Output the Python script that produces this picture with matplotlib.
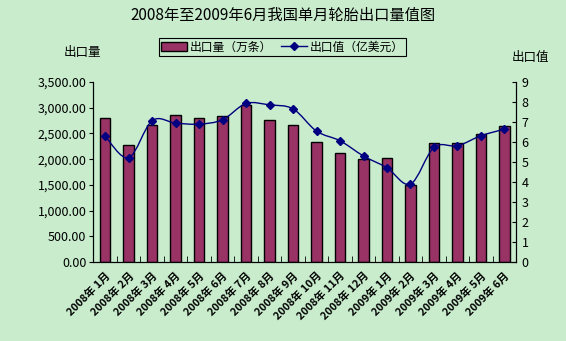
import matplotlib
matplotlib.use('Agg')
import matplotlib.pyplot as plt
from matplotlib.path import Path
from matplotlib.patches import PathPatch
from matplotlib.lines import Line2D
from matplotlib.ticker import FuncFormatter, MultipleLocator
import numpy as np

plt.rcParams['font.family'] = ['Noto Sans CJK SC', 'DejaVu Sans']

months = ['2008年 1月', '2008年 2月', '2008年 3月', '2008年 4月', '2008年 5月',
          '2008年 6月', '2008年 7月', '2008年 8月', '2008年 9月', '2008年 10月',
          '2008年 11月', '2008年 12月', '2009年 1月', '2009年 2月', '2009年 3月',
          '2009年 4月', '2009年 5月', '2009年 6月']
volume = [2800, 2280, 2665, 2860, 2800, 2845, 3055, 2765, 2665, 2340,
          2125, 2000, 2030, 1490, 2320, 2320, 2485, 2650]
value = [6.29, 5.21, 7.06, 6.94, 6.89, 7.11, 7.92, 7.85, 7.65, 6.54,
         6.06, 5.30, 4.71, 3.90, 5.73, 5.81, 6.31, 6.64]

bg = '#C8ECCC'
bar_col = '#993366'
line_col = '#000080'

fig = plt.figure(figsize=(5.66, 3.41), dpi=100, facecolor=bg)
ax = fig.add_axes([0.165, 0.231, 0.747, 0.529])
ax.set_facecolor(bg)
x = np.arange(len(months))
ax.bar(x, volume, width=0.45, color=bar_col, edgecolor='black', linewidth=1)
ax.set_xlim(-0.5, len(months) - 0.5)
ax.set_ylim(0, 3500)
ax.yaxis.set_major_locator(MultipleLocator(500))
ax.yaxis.set_major_formatter(FuncFormatter(lambda v, p: '{:,.2f}'.format(v)))
ax.tick_params(axis='y', labelsize=9, length=3, direction='out', pad=2)
ax.set_xticks(x)
ax.set_xticklabels(months, rotation=45, ha='right', rotation_mode='anchor',
                   fontsize=7.8, fontweight='bold')
ax.set_xticks(np.arange(len(months) + 1) - 0.5, minor=True)
ax.tick_params(axis='x', which='major', length=0, pad=6)
ax.tick_params(axis='x', which='minor', length=4, direction='in')
ax.spines['top'].set_visible(False)

ax2 = ax.twinx()
ax2.set_ylim(0, 9)
ax2.yaxis.set_major_locator(MultipleLocator(1))
ax2.tick_params(axis='y', labelsize=9, length=3, direction='in', pad=4)
ax2.spines['top'].set_visible(False)

# smooth line, bezier segments like Excel's smoothed line
pts = np.column_stack([x, value]).astype(float)
verts = [tuple(pts[0])]
codes = [Path.MOVETO]
n = len(pts)
for i in range(n - 1):
    p0 = pts[max(i - 1, 0)]
    p1 = pts[i]
    p2 = pts[i + 1]
    p3 = pts[min(i + 2, n - 1)]
    c1 = p1 + (p2 - p0) / 6
    c2 = p2 - (p3 - p1) / 6
    verts += [tuple(c1), tuple(c2), tuple(p2)]
    codes += [Path.CURVE4] * 3
ax2.add_patch(PathPatch(Path(verts, codes), facecolor='none', edgecolor=line_col, lw=1))
ax2.plot(x, value, linestyle='none', marker='D', markersize=4.5, color=line_col)

fig.text(0.5, 0.955, '2008年至2009年6月我国单月轮胎出口量值图', ha='center', va='center', fontsize=11)
fig.text(0.145, 0.845, '出口量', ha='center', va='center', fontsize=9)
fig.text(0.937, 0.832, '出口值', ha='center', va='center', fontsize=9)

handles = [plt.Rectangle((0, 0), 1, 1, facecolor=bar_col, edgecolor='black'),
           Line2D([], [], color=line_col, marker='D', markersize=4, lw=1)]
leg = fig.legend(handles, ['出口量（万条）', '出口值（亿美元）'], loc='center',
                 bbox_to_anchor=(0.499, 0.862), ncol=2, fontsize=8.5, frameon=True,
                 fancybox=False, edgecolor='black', facecolor=bg, framealpha=1,
                 borderpad=0.2, handlelength=2.2, handletextpad=0.2, columnspacing=0.8)
leg.get_frame().set_linewidth(0.8)

fig.savefig('out.png', dpi=100, facecolor=bg)
